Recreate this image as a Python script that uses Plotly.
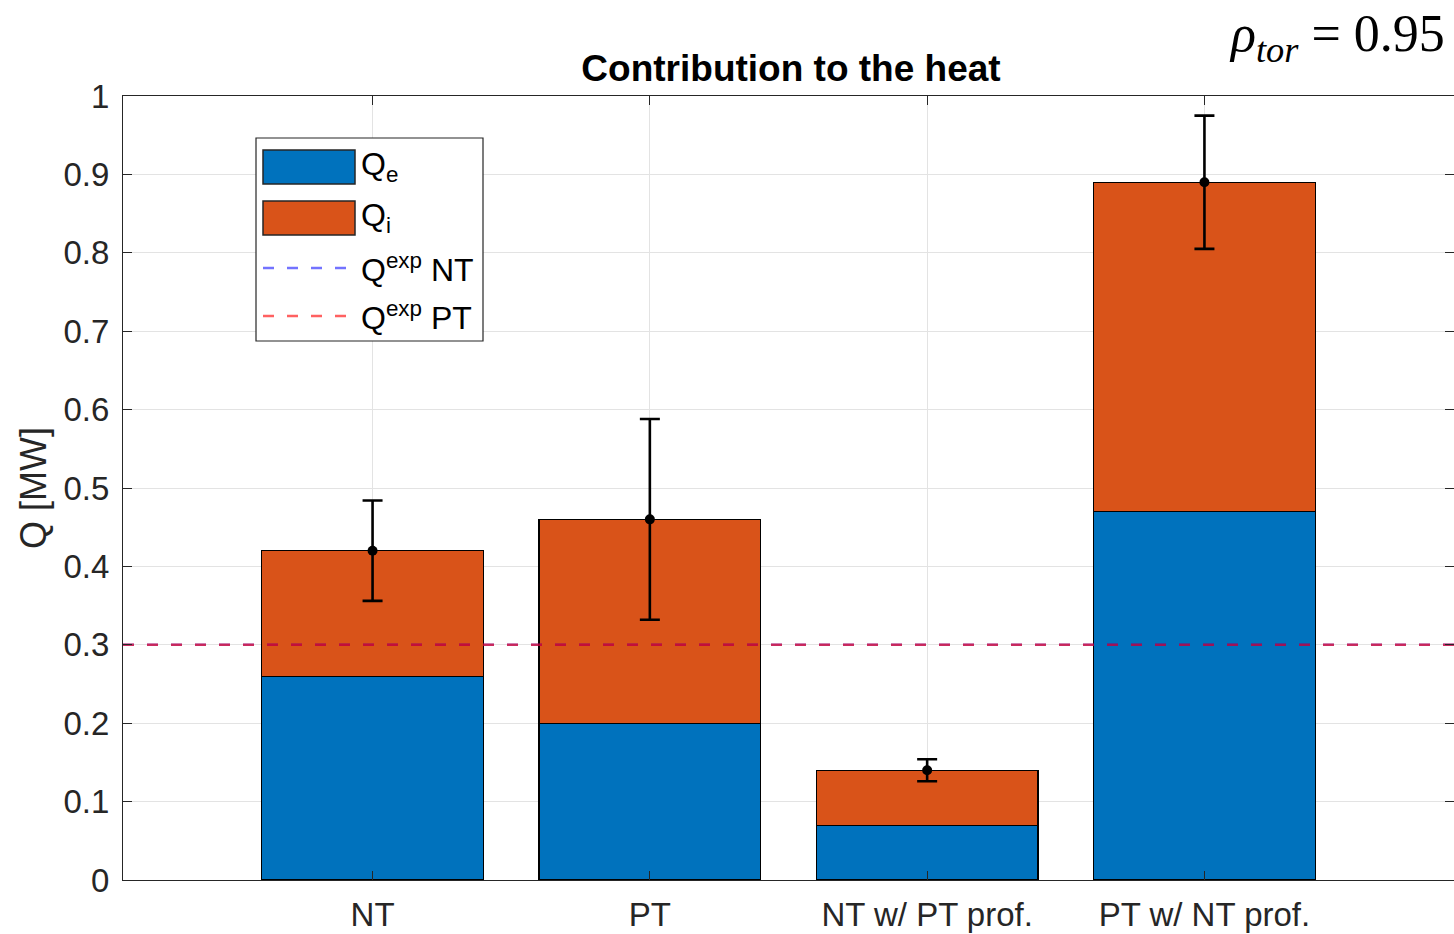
import plotly.graph_objects as go

# Heat contributions per simulation case [MW]
cases = ["NT", "PT", "NT w/ PT prof.", "PT w/ NT prof."]
case_pos = [1, 2, 3, 4]
q_e = [0.26, 0.20, 0.07, 0.47]
q_i = [0.16, 0.26, 0.07, 0.42]
q_total = [0.42, 0.46, 0.14, 0.89]
q_err = [0.064, 0.128, 0.014, 0.085]
q_exp_nt = 0.30
q_exp_pt = 0.30

y_ticks = [0, 0.1, 0.2, 0.3, 0.4, 0.5, 0.6, 0.7, 0.8, 0.9, 1]
y_labels = ["0", "0.1", "0.2", "0.3", "0.4", "0.5", "0.6", "0.7", "0.8", "0.9", "1"]

BLUE = "#0072BD"
ORANGE = "#D95319"
AX = "#262626"
EXP_NT = "rgba(0,0,255,0.55)"
EXP_PT = "rgba(255,0,0,0.62)"
FONT = "Liberation Sans, Arial, sans-serif"

W, H = 1454, 934
ML, MR, MT, MB = 123, 0, 96, 54
PW, PH = W - ML - MR, H - MT - MB
XR = [0.1, 4.9]


def px(x):
    return (x - ML) / PW


def py(y):
    return (H - MB - y) / PH


fig = go.Figure()
fig.add_trace(go.Bar(x=case_pos, y=q_e, width=0.8, name="Qe",
                     marker=dict(color=BLUE, line=dict(color="black", width=1.2))))
fig.add_trace(go.Bar(x=case_pos, y=q_i, width=0.8, name="Qi",
                     marker=dict(color=ORANGE, line=dict(color="black", width=1.2))))

# experimental heat levels, spanning the whole axis
fig.add_trace(go.Scatter(x=XR, y=[q_exp_nt, q_exp_nt], mode="lines",
                         line=dict(color=EXP_NT, width=2.4, dash="11px,13px")))
fig.add_trace(go.Scatter(x=XR, y=[q_exp_pt, q_exp_pt], mode="lines",
                         line=dict(color=EXP_PT, width=2.4, dash="11px,13px")))

# total heat with uncertainty
fig.add_trace(go.Scatter(x=case_pos, y=q_total, mode="markers",
                         marker=dict(color="black", size=10),
                         error_y=dict(type="data", array=q_err, visible=True,
                                      color="black", thickness=2.6, width=10)))

# legend box
shapes = [
    dict(type="rect", xref="paper", yref="paper", x0=px(256), x1=px(483), y0=py(341), y1=py(138),
         line=dict(color=AX, width=1.2), fillcolor="white", layer="above"),
    dict(type="rect", xref="paper", yref="paper", x0=px(263), x1=px(355), y0=py(184), y1=py(150),
         line=dict(color=AX, width=1.5), fillcolor=BLUE, layer="above"),
    dict(type="rect", xref="paper", yref="paper", x0=px(263), x1=px(355), y0=py(235), y1=py(201),
         line=dict(color=AX, width=1.5), fillcolor=ORANGE, layer="above"),
    dict(type="line", xref="paper", yref="paper", x0=px(263), x1=px(350), y0=py(268), y1=py(268),
         line=dict(color=EXP_NT, width=2.6, dash="11px,13px"), layer="above"),
    dict(type="line", xref="paper", yref="paper", x0=px(263), x1=px(350), y0=py(316), y1=py(316),
         line=dict(color=EXP_PT, width=2.6, dash="11px,13px"), layer="above"),
]

leg_font = dict(family=FONT, size=32, color="black")
annotations = [
    dict(text="Q<sub>e</sub>", x=px(359), y=py(167), xref="paper", yref="paper",
         xanchor="left", yanchor="middle", showarrow=False, font=leg_font),
    dict(text="Q<sub>i</sub>", x=px(359), y=py(217), xref="paper", yref="paper",
         xanchor="left", yanchor="middle", showarrow=False, font=leg_font),
    dict(text="Q<sup>exp</sup> NT", x=px(359), y=py(268), xref="paper", yref="paper",
         xanchor="left", yanchor="middle", showarrow=False, font=leg_font),
    dict(text="Q<sup>exp</sup> PT", x=px(359), y=py(316), xref="paper", yref="paper",
         xanchor="left", yanchor="middle", showarrow=False, font=leg_font),
    dict(text="<i>ρ<sub>tor</sub></i>\u00a0= 0.95", x=px(1447), y=py(38),
         xref="paper", yref="paper", xanchor="right", yanchor="middle", showarrow=False,
         font=dict(family="Liberation Serif, DejaVu Serif, serif", size=52, color="black")),
]

fig.update_layout(
    width=W, height=H,
    margin=dict(l=ML, r=MR, t=MT, b=MB, autoexpand=False),
    paper_bgcolor="white", plot_bgcolor="white",
    barmode="stack", showlegend=False,
    title=dict(text="<b>Contribution to the heat</b>", xref="paper", x=px(791), xanchor="center",
               y=1 - 68 / H, yanchor="middle",
               font=dict(family=FONT, size=37, color="black")),
    font=dict(family=FONT, color=AX),
    shapes=shapes, annotations=annotations,
)

fig.update_xaxes(range=XR, tickmode="array", tickvals=case_pos, ticktext=cases,
                 showgrid=True, gridcolor="#e3e3e3", gridwidth=1,
                 ticks="inside", ticklen=9, tickcolor=AX, tickwidth=1,
                 showline=True, linecolor=AX, linewidth=1.2, mirror="ticks",
                 zeroline=False, ticklabelstandoff=5, automargin=False,
                 tickfont=dict(family=FONT, size=33, color=AX))
fig.update_yaxes(range=[0, 1], tickmode="array", tickvals=y_ticks, ticktext=y_labels,
                 showgrid=True, gridcolor="#e3e3e3", gridwidth=1,
                 ticks="inside", ticklen=9, tickcolor=AX, tickwidth=1,
                 showline=True, linecolor=AX, linewidth=1.2, mirror="ticks",
                 zeroline=False, ticklabelstandoff=6, automargin=False,
                 tickfont=dict(family=FONT, size=33, color=AX),
                 title=dict(text="Q [MW]", standoff=5,
                            font=dict(family=FONT, size=36, color=AX)))

fig.write_html("out.html")
